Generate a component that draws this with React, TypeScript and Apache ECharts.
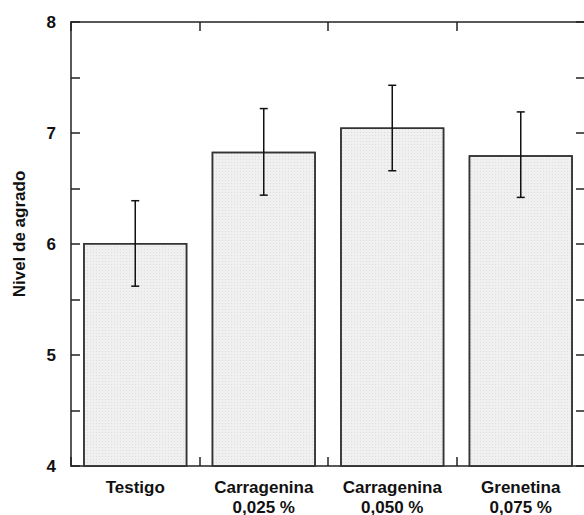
import React, { useEffect, useRef } from "react";
import * as echarts from "echarts";

const categories = ["Testigo", "Carragenina\n0,025 %", "Carragenina\n0,050 %", "Grenetina\n0,075 %"];
const means = [6.01, 6.83, 7.05, 6.8];
const lower = [5.62, 6.44, 6.66, 6.42];
const upper = [6.39, 7.22, 7.43, 7.19];
const yTickLabels = ["4", "5", "6", "7", "8"];
const yAxisTitle = "Nivel de agrado";

export default function App() {
  const ref = useRef<HTMLDivElement>(null);
  useEffect(() => {
    document.body.style.margin = "0";
    const chart = echarts.init(ref.current!, undefined, { renderer: "svg" });
    const axisColor = "#222";
    const font = "Liberation Sans, Arial, sans-serif";
    const yAxisBase = {
      type: "value",
      min: 4,
      max: 8,
      interval: 0.5,
      axisLine: { show: true, lineStyle: { color: axisColor, width: 1.5 } },
      axisTick: { show: true, inside: true, length: 9, lineStyle: { color: axisColor, width: 1.5 } },
      splitLine: { show: false },
    };
    const xTick = { show: true, inside: true, length: 9, interval: 0, lineStyle: { color: axisColor, width: 1.5 } };
    chart.setOption({
      animation: false,
      grid: { left: 71, top: 22, width: 514, height: 444, outerBoundsMode: "none", containLabel: false },
      graphic: [
        {
          type: "text",
          x: 19,
          y: 234,
          rotation: Math.PI / 2,
          style: {
            text: yAxisTitle,
            fill: "#111",
            font: `bold 17px ${font}`,
            align: "center",
            verticalAlign: "middle",
          },
        },
      ],
      xAxis: [
        {
          type: "category",
          data: categories,
          position: "bottom",
          axisLine: { show: true, lineStyle: { color: axisColor, width: 1.5 } },
          axisTick: xTick,
          axisLabel: {
            interval: 0,
            hideOverlap: false,
            color: "#111",
            fontWeight: "bold",
            fontSize: 17,
            fontFamily: font,
            lineHeight: 20,
            margin: 11,
            verticalAlign: "top",
          },
        },
        {
          type: "category",
          data: categories,
          position: "top",
          axisLine: { show: true, lineStyle: { color: axisColor, width: 1.5 } },
          axisTick: xTick,
          axisLabel: { show: false, interval: 0 },
        },
      ],
      yAxis: [
        {
          ...yAxisBase,
          position: "left",
          axisLabel: {
            margin: 15,
            color: "#111",
            fontWeight: "bold",
            fontSize: 17,
            fontFamily: font,
            formatter: (v: number) => {
              const s = String(v);
              return yTickLabels.includes(s) ? s : "";
            },
          },
        },
        {
          ...yAxisBase,
          position: "right",
          axisLabel: { show: false },
        },
      ],
      series: [
        {
          type: "bar",
          data: means,
          barWidth: "81%",
          itemStyle: {
            color: "#f0f0f0",
            borderColor: "#333",
            borderWidth: 1.5,
            decal: {
              symbol: "rect",
              symbolSize: 1,
              color: "rgba(0,0,0,0.08)",
              dashArrayX: [1, 2],
              dashArrayY: [1, 2],
              rotation: 0,
            },
          },
        },
        {
          type: "custom",
          data: means.map((m, i) => [i, lower[i], upper[i]]),
          z: 10,
          renderItem: (params: any, api: any) => {
            const i = api.value(0);
            const lo = api.coord([i, api.value(1)]);
            const hi = api.coord([i, api.value(2)]);
            const hw = 4;
            const style = { stroke: "#111", lineWidth: 1.5 };
            return {
              type: "group",
              children: [
                { type: "line", shape: { x1: hi[0], y1: hi[1], x2: lo[0], y2: lo[1] }, style },
                { type: "line", shape: { x1: hi[0] - hw, y1: hi[1], x2: hi[0] + hw, y2: hi[1] }, style },
                { type: "line", shape: { x1: lo[0] - hw, y1: lo[1], x2: lo[0] + hw, y2: lo[1] }, style },
              ],
            };
          },
        },
      ],
      aria: { enabled: false, decal: { show: true } },
    });
    return () => chart.dispose();
  }, []);
  return <div ref={ref} style={{ width: 584, height: 515 }} />;
}
